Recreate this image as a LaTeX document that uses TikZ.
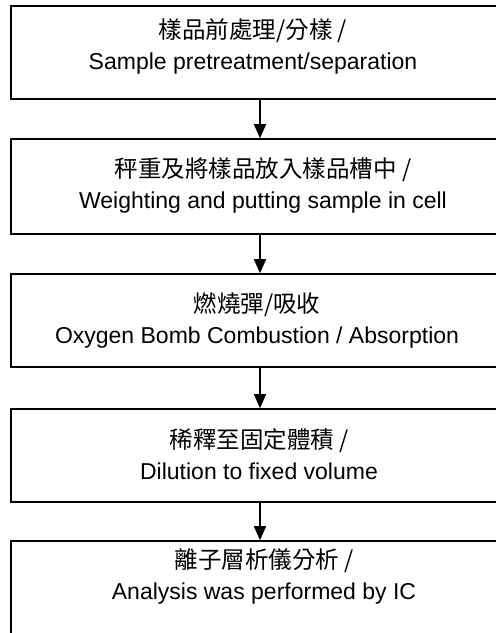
\documentclass[tikz,border=0pt]{standalone}
\usepackage{fontspec}
\setmainfont{Liberation Sans}
\newfontfamily\cjk{Noto Sans CJK TC}
\usetikzlibrary{arrows.meta}
\newcommand{\cjkline}[1]{{\cjk\fontsize{23.5}{31}\selectfont #1}}
\begin{document}
\begin{tikzpicture}[x=1pt, y=-1pt,
    stepbox/.style={draw, line width=1.6pt, minimum width=488pt, inner sep=0pt},
    steptext/.style={align=center, font=\fontsize{23}{31}\selectfont, inner sep=0pt},
    flow/.style={line width=1.5pt, -{Triangle[width=12pt,length=14pt]}}]
    \useasboundingbox (0,0) rectangle (496,633);
    \foreach \i/\y/\h in {1/52.5/93,2/186.5/95,3/320.5/93,4/455.5/93,5/592/102} {
        \node[stepbox, minimum height=\h pt] (s\i) at (255,\y) {};
    }
    \node[steptext] (t1) at (253,46) {\cjkline{樣品前處理/分樣 /}\\Sample pretreatment/separation};
    \node[steptext] (t2) at (263,185) {\cjkline{秤重及將樣品放入樣品槽中 /}\\Weighting and putting sample in cell};
    \node[steptext] (t3) at (257,321) {\cjkline{燃燒彈/吸收}\\Oxygen Bomb Combustion / Absorption};
    \node[steptext] (t4) at (259,454) {\cjkline{稀釋至固定體積 /}\\Dilution to fixed volume};
    \node[steptext] (t5) at (264,576) {\cjkline{離子層析儀分析 /}\\Analysis was performed by IC};
    \foreach \i/\j in {1/2,2/3,3/4,4/5} {
        \draw[flow] ([xshift=5pt]s\i.south) -- ([xshift=5pt]s\j.north);
    }
\end{tikzpicture}
\end{document}
